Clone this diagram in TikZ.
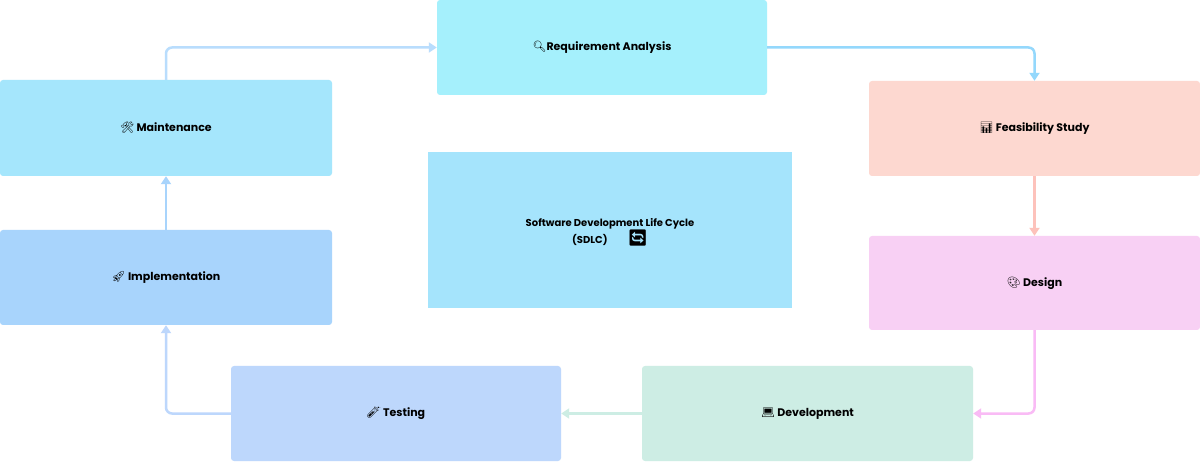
\documentclass[tikz,border=0pt]{standalone}
\usepackage{fontspec}
\setmainfont{Poppins}
\newfontfamily\emo{Noto Emoji}
\usetikzlibrary{arrows.meta}
\begin{document}
\begin{tikzpicture}[x=1pt,y=-1pt,
  box/.style={rounded corners=3pt,inner sep=0pt,font=\bfseries\fontsize{11}{14}\selectfont},
  conn/.style={line width=2.5pt,rounded corners=6pt,-{Triangle[length=8pt,width=10pt]}}]
\useasboundingbox (0,0) rectangle (1200,462);
\fill[white] (0,0) rectangle (1200,462);
\definecolor{cReq}{HTML}{A5F0FC}\definecolor{cMain}{HTML}{A5E6FC}
\definecolor{cFea}{HTML}{FDD8D0}\definecolor{cCen}{HTML}{A5E4FC}
\definecolor{cImp}{HTML}{A8D4FC}\definecolor{cDes}{HTML}{F8D0F4}
\definecolor{cTest}{HTML}{BDD7FC}\definecolor{cDev}{HTML}{CDEDE4}
\node[box,fill=cReq,minimum width=330pt,minimum height=95pt] (req) at (602,47.5) {{\emo 🔍}Requirement Analysis};
\node[box,fill=cMain,minimum width=332pt,minimum height=96pt] (main) at (166,128) {{\emo 🛠}\ Maintenance};
\node[box,fill=cFea,minimum width=331pt,minimum height=95pt] (fea) at (1034.5,128.5) {{\emo 📊}\ Feasibility Study};
\node[box,fill=cDes,minimum width=331pt,minimum height=94pt] (des) at (1034.5,283) {{\emo 🎨}\ Design};
\node[box,fill=cImp,minimum width=332pt,minimum height=95pt] (imp) at (166,277.5) {{\emo 🚀}\ Implementation};
\node[box,fill=cTest,minimum width=330pt,minimum height=95pt] (test) at (396,413.5) {{\emo 🧪}\ Testing};
\node[box,fill=cDev,minimum width=331pt,minimum height=95pt] (dev) at (807.5,413.5) {{\emo 💻}\ Development};
\node[fill=cCen,minimum width=364pt,minimum height=156pt,inner sep=0pt] (cen) at (610,230) {};
\node[font=\bfseries\fontsize{10}{16}\selectfont,align=center] (ct) at (610,232) {Software Development Life Cycle\\(SDLC)\hspace{20pt}{\emo\fontsize{16}{16}\selectfont 🔄}};
\draw[conn,draw=cImp!80!white] (main.north) |- (req.west);
\draw[conn,draw=cReq!90!blue] (req.east) -| (fea.north);
\draw[conn,draw=cFea!90!red] (fea.south) -- (des.north);
\draw[conn,draw=cDes!90!magenta] (des.south) |- (dev.east);
\draw[conn,draw=cDev] (dev.west) -- (test.east);
\draw[conn,draw=cTest] (test.west) -| (imp.south);
\draw[conn,draw=cImp] (imp.north) -- (main.south);
\end{tikzpicture}
\end{document}
